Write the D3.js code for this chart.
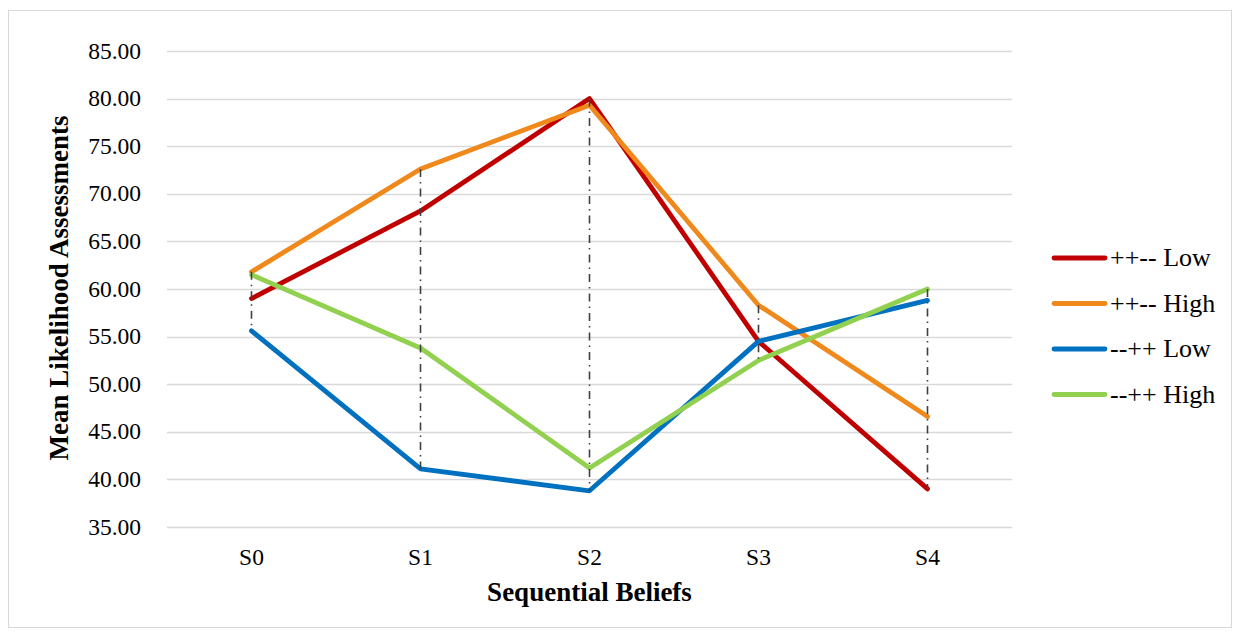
<!DOCTYPE html>
<html>
<head>
<meta charset="utf-8">
<script src="https://cdn.jsdelivr.net/npm/d3@7"></script>
<style>
  body { margin: 0; background: #fff; }
  text { font-family: "Liberation Serif", "Times New Roman", serif; fill: #000; }
</style>
</head>
<body>
<div id="chart"></div>
<script>
// Chart data
var categories = ["S0", "S1", "S2", "S3", "S4"];
var seriesNames = ["++-- Low", "++-- High", "--++ Low", "--++ High"];
var lowPlusMinus = [59.0, 68.2, 80.0, 54.5, 39.0];
var highPlusMinus = [61.8, 72.6, 79.3, 58.3, 46.6];
var lowMinusPlus = [55.6, 41.1, 38.8, 54.5, 58.8];
var highMinusPlus = [61.5, 53.8, 41.2, 52.5, 60.0];
var yTicks = [35, 40, 45, 50, 55, 60, 65, 70, 75, 80, 85];

var colors = ["#C00000", "#F0891C", "#0070C0", "#92D050"];

// SVG size and margins
var svgWidth = 1239;
var svgHeight = 634;
var margin = { top: 51, right: 227, bottom: 107, left: 167 };
var width = svgWidth - margin.left - margin.right;
var height = svgHeight - margin.top - margin.bottom;

var svg = d3.select("#chart")
  .append("svg")
  .attr("width", svgWidth)
  .attr("height", svgHeight);

// outer chart border
svg.append("rect")
  .attr("x", 8.5)
  .attr("y", 10.5)
  .attr("width", 1223)
  .attr("height", 617)
  .attr("fill", "none")
  .attr("stroke", "#d9d9d9")
  .attr("stroke-width", 1);

var chartGroup = svg.append("g")
  .attr("transform", `translate(${margin.left}, ${margin.top})`);

// Scales
var xScale = d3.scaleBand()
  .domain(categories)
  .range([0, width]);

var yScale = d3.scaleLinear()
  .domain([35, 85])
  .range([height, 0]);

var xPos = d => xScale(d) + xScale.bandwidth() / 2;

// Gridlines
chartGroup.append("g")
  .selectAll("line")
  .data(yTicks)
  .enter()
  .append("line")
  .attr("x1", 0)
  .attr("x2", width)
  .attr("y1", d => Math.round(yScale(d)) + 0.5)
  .attr("y2", d => Math.round(yScale(d)) + 0.5)
  .attr("stroke", "#d9d9d9")
  .attr("stroke-width", 1.3);

// Y axis labels
var leftAxis = d3.axisLeft(yScale)
  .tickValues(yTicks)
  .tickFormat(d3.format(".2f"))
  .tickSize(0)
  .tickPadding(26);

chartGroup.append("g")
  .call(leftAxis)
  .call(g => g.select(".domain").remove())
  .selectAll("text")
  .attr("dy", "0.3em")
  .style("font-size", "23.5px")
  .style("font-family", "Liberation Serif, serif")
  .attr("fill", "#000");

// X axis labels
var bottomAxis = d3.axisBottom(xScale).tickSize(0);

chartGroup.append("g")
  .attr("transform", `translate(0, ${height})`)
  .call(bottomAxis)
  .call(g => g.select(".domain").remove())
  .selectAll("text")
  .attr("y", 38)
  .attr("dy", 0)
  .style("font-size", "23.5px")
  .style("font-family", "Liberation Serif, serif")
  .attr("fill", "#000");

// Series lines
var allSeries = [lowPlusMinus, highPlusMinus, lowMinusPlus, highMinusPlus];

var line = d3.line()
  .x((d, i) => xPos(categories[i]))
  .y(d => yScale(d));

chartGroup.selectAll(".series")
  .data(allSeries)
  .enter()
  .append("path")
  .attr("class", "series")
  .attr("d", line)
  .attr("fill", "none")
  .attr("stroke", (d, i) => colors[i])
  .attr("stroke-width", 4.8)
  .attr("stroke-linejoin", "round")
  .attr("stroke-linecap", "round");

// High-low lines
chartGroup.selectAll(".hilo")
  .data(categories)
  .enter()
  .append("line")
  .attr("class", "hilo")
  .attr("x1", d => xPos(d))
  .attr("x2", d => xPos(d))
  .attr("y1", (d, i) => yScale(d3.max(allSeries, s => s[i])))
  .attr("y2", (d, i) => yScale(d3.min(allSeries, s => s[i])))
  .attr("stroke", "#404040")
  .attr("stroke-width", 1.6)
  .attr("stroke-dasharray", "8,5,1.5,5");

// Axis titles
chartGroup.append("text")
  .attr("transform", "rotate(-90)")
  .attr("x", 0 - (288 - margin.top))
  .attr("y", 68 - margin.left)
  .attr("text-anchor", "middle")
  .style("font-size", "27px")
  .style("font-weight", "bold")
  .text("Mean Likelihood Assessments");

chartGroup.append("text")
  .attr("x", width / 2)
  .attr("y", 601 - margin.top)
  .attr("text-anchor", "middle")
  .style("font-size", "27px")
  .style("font-weight", "bold")
  .text("Sequential Beliefs");

// Legend
var legend = svg.append("g")
  .attr("transform", "translate(1052, 258)");

var legendRows = legend.selectAll("g")
  .data(seriesNames)
  .enter()
  .append("g")
  .attr("transform", (d, i) => `translate(0, ${i * 45.5})`);

legendRows.append("line")
  .attr("x1", 2)
  .attr("x2", 53)
  .attr("stroke", (d, i) => colors[i])
  .attr("stroke-width", 4.8)
  .attr("stroke-linecap", "round");

legendRows.append("text")
  .attr("x", 58)
  .attr("y", 8)
  .style("font-size", "26px")
  .text(d => d);
</script>
</body>
</html>
